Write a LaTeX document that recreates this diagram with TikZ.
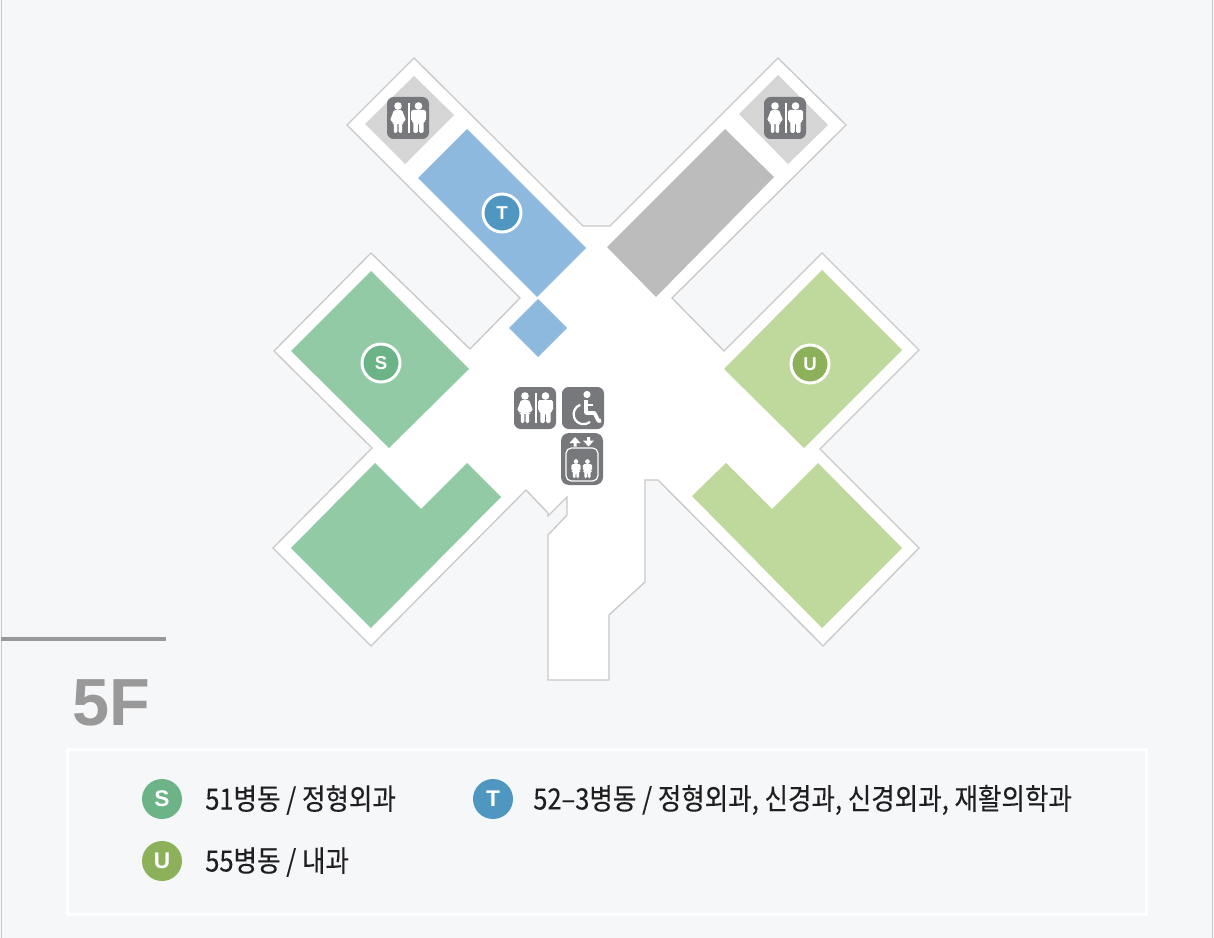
\documentclass[tikz,border=0pt]{standalone}
\usepackage{fontspec}
\setmainfont{Liberation Sans}
\newfontfamily\krfont[FakeStretch=0.87,FakeBold=0.15]{Noto Sans CJK KR}
\definecolor{bgc}{HTML}{F6F7F9}
\definecolor{edgec}{HTML}{C9C9C9}
\definecolor{iconc}{HTML}{77787B}
\definecolor{bluea}{HTML}{8DB9DE}
\definecolor{blueb}{HTML}{4F96C0}
\definecolor{greena}{HTML}{93CAA6}
\definecolor{greenb}{HTML}{6DB388}
\definecolor{lima}{HTML}{BFD89B}
\definecolor{limb}{HTML}{8DB15A}
\definecolor{graya}{HTML}{BDBCBD}
\definecolor{grayb}{HTML}{D5D5D5}
\definecolor{labelc}{HTML}{999999}
\tikzset{
  x=0.75pt,y=-0.75pt,
  plan/.style={fill=white,draw=edgec,line width=1pt,line join=miter},
  mapdot/.style={circle,draw=white,line width=2.2pt,minimum size=28.5pt,inner sep=0pt,text=white,font=\fontsize{14}{14}\selectfont\bfseries},
  keydot/.style={circle,minimum size=30pt,inner sep=0pt,text=white,font=\fontsize{17}{17}\selectfont\bfseries},
  keytext/.style={anchor=west,inner sep=0pt,text=black!88,font=\fontsize{22}{26}\krfont},
  pics/manfig/.style={code={
    \fill[white] (0,-12) circle[radius=3.8];
    \fill[white,rounded corners=1.2] (-7.5,-8) -- (7.5,-8) -- (7.5,3) -- (5.2,3) -- (5.2,15) -- (0.6,15) -- (0.6,5) -- (-0.6,5) -- (-0.6,15) -- (-5.2,15) -- (-5.2,3) -- (-7.5,3) -- cycle;
  }},
  pics/womanfig/.style={code={
    \fill[white] (0,-12) circle[radius=3.8];
    \fill[white,rounded corners=1] (-4,-8) -- (4,-8) -- (8,2.5) -- (5.2,3.5) -- (4.8,5) -- (4.2,5) -- (4.2,15) -- (0.7,15) -- (0.7,5) -- (-0.7,5) -- (-0.7,15) -- (-4.2,15) -- (-4.2,5) -- (-4.8,5) -- (-5.2,3.5) -- (-8,2.5) -- cycle;
  }},
  pics/wcicon/.style={code={
    \fill[iconc,rounded corners=5] (-21,-21) rectangle (21,21);
    \pic at (-10,0) {womanfig};
    \pic at (10.5,0) {manfig};
    \fill[white] (-0.4,-15) rectangle (2.2,15);
  }},
  pics/chairicon/.style={code={
    \fill[iconc,rounded corners=5] (-21,-21) rectangle (21,21);
    \fill[white] (4,-13.5) circle[radius=3.6];
    \draw[white,line width=2.8pt,line join=round] (3,-8) -- (3,5) -- (11.5,5) -- (15.5,13) -- (18,12.5);
    \draw[white,line width=1.6pt] (3,-3) -- (10,-3);
    \draw[white,line width=1.7pt] (-2.8,-3.2) arc[start angle=250,end angle=50,radius=10];
  }},
  pics/lifticon/.style={code={
    \fill[iconc,rounded corners=6] (-21,-26) rectangle (21,26);
    \fill[white] (-7,-22) -- (-1.5,-16) -- (-5.5,-16) -- (-5.5,-12.5) -- (-8.5,-12.5) -- (-8.5,-16) -- (-12.5,-16) -- cycle;
    \fill[white] (6.5,-12.5) -- (1,-18.5) -- (5,-18.5) -- (5,-22) -- (8,-22) -- (8,-18.5) -- (12,-18.5) -- cycle;
    \draw[white,line width=0.9pt,rounded corners=4] (-16,-11) rectangle (16,22);
    \pic[scale=0.62] at (-6,10) {manfig};
    \pic[scale=0.62] at (5.5,10) {manfig};
  }},
}
\begin{document}
\begin{tikzpicture}
\useasboundingbox (0,0) rectangle (1214,938);
\fill[bgc] (0,0) rectangle (1214,938);
\draw[edgec,line width=1.2pt] (1.5,0) -- (1.5,938);
\draw[edgec,line width=1.2pt] (1212.5,0) -- (1212.5,938);
% floor outline
\draw[plan] (414,58) -- (583,226) -- (610,226) -- (778,58) -- (846,125) -- (672,298) -- (724,351)
 -- (822,253) -- (919,350) -- (820,449) -- (919,548) -- (823,646) -- (658,480) -- (645,480)
 -- (645,582) -- (609,615) -- (609,680) -- (548,680) -- (548,535) -- (567,515) -- (567,497)
 -- (548,516) -- (548,513) -- (526,490) -- (371,646) -- (273,548) -- (372,448) -- (274,351)
 -- (371,253) -- (470,349) -- (520,298) -- (347,125) -- cycle;
% rooms
\fill[grayb] (414,76) -- (454,115) -- (405,164) -- (365,124) -- cycle;
\fill[grayb] (778,75) -- (828,125) -- (788,164) -- (739,114) -- cycle;
\fill[bluea] (467,129) -- (586,248) -- (537,297) -- (418,178) -- cycle;
\fill[bluea] (538,299) -- (567,328) -- (538,357) -- (509,328) -- cycle;
\fill[graya] (725,129) -- (774,177) -- (656,297) -- (607,247) -- cycle;
\fill[greena] (371,271) -- (469,369) -- (389,448) -- (291,351) -- cycle;
\fill[lima] (822,270) -- (902,350) -- (804,448) -- (724,369) -- cycle;
\fill[greena] (375,463) -- (421,509) -- (467,463) -- (501,497) -- (371,628) -- (291,548) -- cycle;
\fill[lima] (692,496) -- (726,463) -- (772,509) -- (818,463) -- (902,548) -- (822,628) -- cycle;
% icons
\pic at (408,118) {wcicon};
\pic at (785,118) {wcicon};
\pic at (535,408) {wcicon};
\pic at (583,408) {chairicon};
\pic at (582,459) {lifticon};
% map markers
\node[mapdot,fill=blueb] (mapT) at (502,213) {T};
\node[mapdot,fill=greenb] (mapS) at (381,363) {S};
\node[mapdot,fill=limb] (mapU) at (810,364) {U};
% floor label
\fill[labelc] (1,636.5) rectangle (166,640.5);
\node[anchor=base west,inner sep=0pt,text=labelc,font=\fontsize{50}{50}\selectfont\bfseries] (floor) at (72.5,725) {5F};
% legend
\node[draw=white,line width=2.2pt,minimum width=809.5pt,minimum height=124pt,inner sep=0pt,anchor=north west] (legendbox) at (66,748) {};
\node[keydot,fill=greenb] (keyS) at (162,799) {S};
\node[keydot,fill=blueb] (keyT) at (493,799) {T};
\node[keydot,fill=limb] (keyU) at (162,861) {U};
\node[keytext] (textS) at (205,800) {51병동 / 정형외과};
\node[keytext] (textT) at (533,800) {52–3병동 / 정형외과, 신경과, 신경외과, 재활의학과};
\node[keytext] (textU) at (205,862) {55병동 / 내과};
\end{tikzpicture}
\end{document}
